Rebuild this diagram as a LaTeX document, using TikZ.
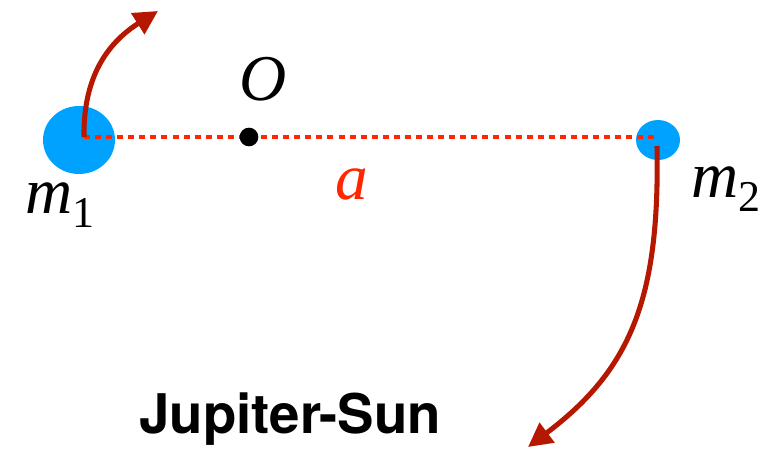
\documentclass[tikz,border=0pt]{standalone}
\usepackage{fontspec}
\setsansfont{TeX Gyre Heros}
\newfontfamily\labelfont{Liberation Serif}
\usetikzlibrary{arrows.meta,shapes.geometric}
\definecolor{bodyblue}{HTML}{00A2FF}
\definecolor{sepred}{HTML}{FF2600}
\definecolor{orbitred}{HTML}{B51700}
\newcommand{\msub}[1]{\textit{m}\raisebox{-11pt}{\fontsize{33}{40}\selectfont #1}}
\tikzset{
  body/.style={ellipse,fill=bodyblue,inner sep=0pt},
  orbit/.style={draw=orbitred,line width=3.8pt,-{Triangle[length=18pt,width=18pt]}},
  sep/.style={draw=sepred,line width=3.3pt,dash pattern=on 4.5pt off 3.8pt},
  mlabel/.style={font=\labelfont\fontsize{49}{56}\selectfont,anchor=base}
}
\begin{document}
\begin{tikzpicture}[x=0.75pt,y=-0.75pt, line join=round]
\useasboundingbox (0,0) rectangle (769,450);
% Bodies, centre of mass and separation
\node[body,minimum width=54pt,minimum height=51pt] (m1) at (79,140) {};
\node[body,minimum width=33pt,minimum height=30pt] (m2) at (658,140) {};
\coordinate (p1) at (84,137);
\coordinate (p2) at (657,137);
\draw[sep] (p1) -- (p2);
\node[circle,fill=black,inner sep=0pt,minimum size=14pt] (O) at (249,137) {};
\node[mlabel] (Olab) at (263,100) {\textit{O}};
\node[mlabel,text=sepred] (alab) at (352,199) {\textit{a}};
\node[mlabel] (m1lab) at (60,213) {\msub{1}};
\node[mlabel] (m2lab) at (726,197) {\msub{2}};
% Orbital motion
\coordinate (t1) at (158,11);
\coordinate (q2) at (657,146);
\coordinate (t2) at (528,447);
\draw[orbit] (p1) .. controls (83,72) and (112,40) .. (t1);
\draw[orbit] (q2) .. controls (660,300) and (630,370) .. (t2);
\node[font=\sffamily\bfseries\fontsize{41}{48}\selectfont,anchor=base] (title) at (290,433) {Jupiter-Sun};
\end{tikzpicture}
\end{document}
